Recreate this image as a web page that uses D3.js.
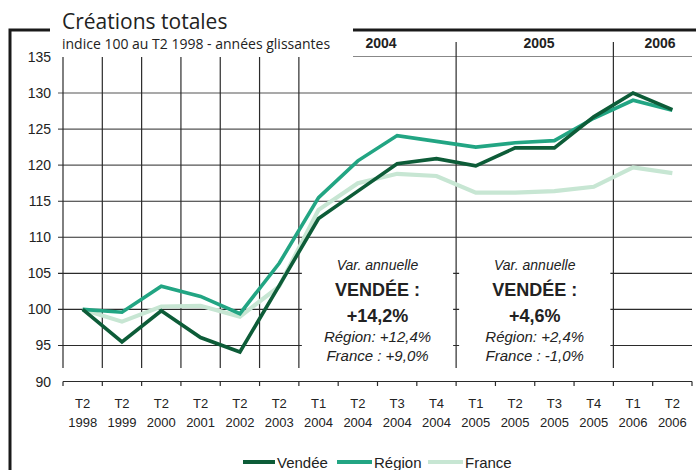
<!DOCTYPE html>
<html><head><meta charset="utf-8">
<script src="https://cdn.jsdelivr.net/npm/d3@7"></script>
<style>body{margin:0;background:#fff}svg{display:block;font-family:"Liberation Sans",Arial,sans-serif}</style>
</head><body><svg id="c" width="696" height="470"></svg>
<script>
const quarters = ["T2","T2","T2","T2","T2","T2","T1","T2","T3","T4","T1","T2","T3","T4","T1","T2"];
const years    = ["1998","1999","2000","2001","2002","2003","2004","2004","2004","2004","2005","2005","2005","2005","2006","2006"];
const vendee = [100,95.5,99.8,96.1,94.1,103.3,112.6,116.4,120.2,120.9,119.9,122.4,122.4,126.7,130.0,127.7];
const region = [100,99.6,103.2,101.8,99.4,106.4,115.5,120.6,124.1,123.3,122.5,123.1,123.4,126.5,129.0,127.6];
const france = [100,98.3,100.4,100.5,99.0,103.2,113.8,117.5,118.8,118.5,116.2,116.2,116.4,117.0,119.7,118.9];
const yTicks = [90,95,100,105,110,115,120,125,130,135];
const headerYears = ["2004","2005","2006"];
const notes = [
  {title:"Var. annuelle", head:"VENDÉE :", main:"+14,2%", r:"Région: +12,4%", f:"France : +9,0%"},
  {title:"Var. annuelle", head:"VENDÉE :", main:"+4,6%", r:"Région: +2,4%", f:"France : -1,0%"}
];
const seriesNames = ["Vendée","Région","France"];
const colors = {"Vendée":"#0d5c38","Région":"#22a583","France":"#c7e6d3"};

const svg = d3.select("#c");
const cats = quarters.map((q,i)=>q+" "+years[i]);
const x = d3.scaleBand().domain(cats).range([63,692]);
const y = d3.scaleLinear().domain([90,135]).range([381.5,57]);
const gridCol = "#2b2b2b";

// frame
svg.append("path").attr("d","M10,470 V30 H50").attr("fill","none").attr("stroke","#1a1a1a").attr("stroke-width",3);
svg.append("line").attr("x1",353).attr("x2",696).attr("y1",30).attr("y2",30).attr("stroke","#1a1a1a").attr("stroke-width",3);
svg.append("line").attr("x1",353).attr("x2",692).attr("y1",56.5).attr("y2",56.5).attr("stroke","#888").attr("stroke-width",1.2);

// title
svg.append("text").attr("x",62).attr("y",29).attr("font-family","'Open Sans',sans-serif").attr("font-size",21).attr("fill","#222").text("Créations totales");
svg.append("text").attr("x",62).attr("y",49).attr("font-family","'Open Sans',sans-serif").attr("font-size",14).attr("fill","#222").text("indice 100 au T2 1998 - années glissantes");

// horizontal grid
yTicks.filter(v=>v>90 && v<135).forEach(v=>{
  svg.append("line").attr("x1",58).attr("x2",692).attr("y1",y(v)).attr("y2",y(v)).attr("stroke",v>=120?"#555":gridCol).attr("stroke-width",1.1);
});
// y labels
yTicks.forEach(v=>{
  svg.append("text").attr("x",51).attr("y",y(v)+5).attr("text-anchor","end").attr("font-size",14).attr("fill","#222").text(v);
});

// vertical grid: left part (band edges 0..6)
for(let i=0;i<=6;i++){
  const xx = x(cats[i]);
  svg.append("line").attr("x1",xx).attr("x2",xx).attr("y1",57).attr("y2",368).attr("stroke",gridCol).attr("stroke-width",1.2);
}
// year separators
[10,14].forEach(i=>{
  const xx = x(cats[i]);
  svg.append("line").attr("x1",xx).attr("x2",xx).attr("y1",42).attr("y2",368).attr("stroke",gridCol).attr("stroke-width",1.2);
});

// header years
const hx = [381, 539, 660];
headerYears.forEach((t,i)=>{
  svg.append("text").attr("x",hx[i]).attr("y",48).attr("text-anchor","middle").attr("font-size",14).attr("font-weight","bold").attr("fill","#222").text(t);
});

// white boxes for annotations
const boxes = [[x(cats[6])+3, x(cats[10])-3],[x(cats[10])+3, x(cats[14])-3]];
boxes.forEach(b=>{
  svg.append("rect").attr("x",b[0]).attr("y",252).attr("width",b[1]-b[0]).attr("height",118).attr("fill","#fff");
});

// x axis
svg.append("line").attr("x1",63).attr("x2",692).attr("y1",381.5).attr("y2",381.5).attr("stroke",gridCol).attr("stroke-width",1.2);
cats.forEach((c,i)=>{
  const xx = x(c);
  svg.append("line").attr("x1",xx).attr("x2",xx).attr("y1",381.5).attr("y2",386).attr("stroke",gridCol).attr("stroke-width",1.2);
});
svg.append("line").attr("x1",692).attr("x2",692).attr("y1",381.5).attr("y2",386).attr("stroke",gridCol).attr("stroke-width",1.2);
cats.forEach((c,i)=>{
  const cx = x(c)+x.bandwidth()/2;
  svg.append("text").attr("x",cx).attr("y",408).attr("text-anchor","middle").attr("font-size",13).attr("fill","#222").text(quarters[i]);
  svg.append("text").attr("x",cx).attr("y",427).attr("text-anchor","middle").attr("font-size",13).attr("fill","#222").text(years[i]);
});

// annotation texts
notes.forEach((n,i)=>{
  const cx = (boxes[i][0]+boxes[i][1])/2;
  const g = svg.append("g").attr("text-anchor","middle").attr("fill","#222");
  g.append("text").attr("x",cx).attr("y",270).attr("font-size",14).attr("font-style","italic").text(n.title);
  g.append("text").attr("x",cx).attr("y",296).attr("font-size",18).attr("font-weight","bold").text(n.head);
  g.append("text").attr("x",cx).attr("y",322).attr("font-size",18).attr("font-weight","bold").text(n.main);
  g.append("text").attr("x",cx).attr("y",342).attr("font-size",15).attr("font-style","italic").text(n.r);
  g.append("text").attr("x",cx).attr("y",361).attr("font-size",15).attr("font-style","italic").text(n.f);
});

// lines
const line = d3.line().x((d,i)=>x(cats[i])+x.bandwidth()/2).y(d=>y(d));
[["France",france,4.2],["Région",region,3.6],["Vendée",vendee,3.6]].forEach(([n,data,w])=>{
  svg.append("path").datum(data).attr("d",line).attr("fill","none").attr("stroke",colors[n]).attr("stroke-width",w).attr("stroke-linejoin","miter");
});

// legend
const legX = [[243,275,277],[337,372,374],[428,463,465]];
seriesNames.forEach((n,i)=>{
  svg.append("line").attr("x1",legX[i][0]).attr("x2",legX[i][1]).attr("y1",462).attr("y2",462).attr("stroke",colors[n]).attr("stroke-width",4);
  svg.append("text").attr("x",legX[i][2]).attr("y",468).attr("font-size",15).attr("fill","#222").text(n);
});
</script></body></html>
